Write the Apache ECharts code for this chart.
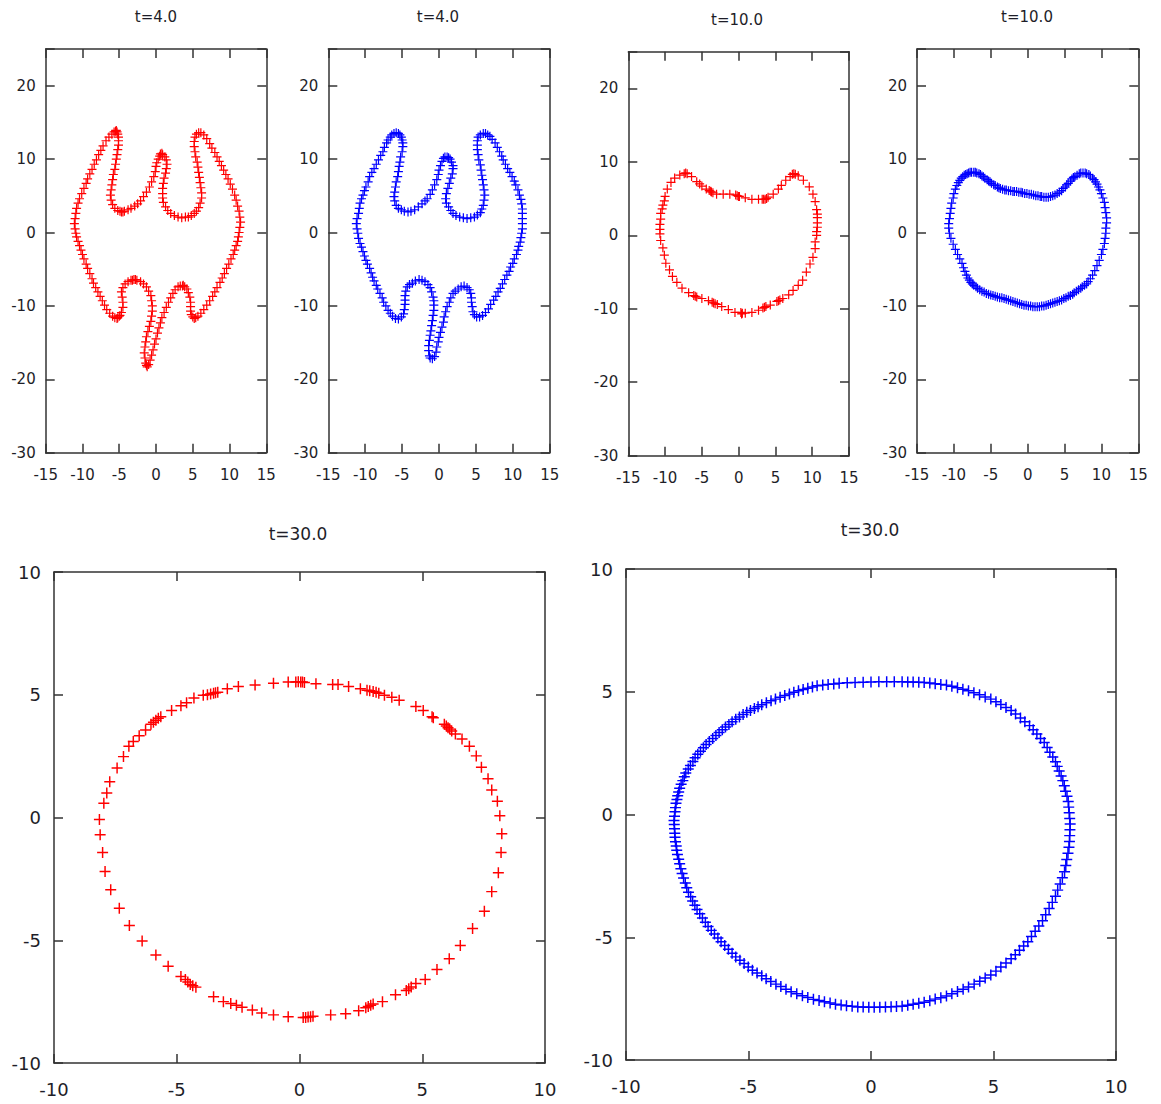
<!DOCTYPE html>
<html>
<head>
<meta charset="utf-8">
<script src="https://cdn.jsdelivr.net/npm/echarts@6/dist/echarts.min.js"></script>
<style>
  html, body { margin: 0; padding: 0; background: #ffffff; }
  #chart { width: 1161px; height: 1104px; }
</style>
</head>
<body>
<div id="chart"></div>
<script>
// Interface positions (x, y) of the two runs at each output time.
const redT4 = [
  [-10.9,-0.1],[-11.0,0.5],[-11.1,1.2],[-11.0,1.9],[-10.9,2.6],[-10.8,3.3],[-10.6,4.0],[-10.4,4.6],[-10.1,5.3],[-9.8,6.0],
  [-9.5,6.7],[-9.3,7.3],[-9.0,8.0],[-8.7,8.6],[-8.4,9.3],[-8.1,9.9],[-7.8,10.6],[-7.5,11.2],[-7.2,11.8],[-6.8,12.5],
  [-6.4,13.0],[-6.0,13.4],[-5.7,13.7],[-5.5,13.8],[-5.4,13.9],[-5.3,13.7],[-5.2,13.4],[-5.1,13.0],[-5.1,12.5],[-5.1,11.9],
  [-5.2,11.3],[-5.3,10.6],[-5.4,10.0],[-5.5,9.3],[-5.6,8.6],[-5.8,7.9],[-5.9,7.2],[-6.0,6.5],[-6.1,5.8],[-6.2,5.1],
  [-6.1,4.4],[-5.9,3.8],[-5.6,3.3],[-5.2,3.0],[-4.9,2.9],[-4.7,2.8],[-4.5,2.8],[-4.3,2.9],[-3.8,3.1],[-3.4,3.3],
  [-2.9,3.6],[-2.5,3.9],[-2.1,4.3],[-1.7,4.9],[-1.3,5.5],[-0.9,6.2],[-0.6,6.9],[-0.3,7.6],[-0.1,8.3],[0.0,9.0],
  [0.1,9.5],[0.3,10.0],[0.5,10.4],[0.6,10.7],[0.8,10.8],[0.9,10.6],[1.2,10.3],[1.4,9.9],[1.5,9.3],[1.4,8.7],
  [1.3,8.1],[1.1,7.4],[1.0,6.7],[0.9,6.0],[0.9,5.3],[0.9,4.7],[1.0,4.1],[1.3,3.5],[1.6,3.0],[2.0,2.6],
  [2.5,2.3],[3.0,2.1],[3.5,2.0],[4.0,2.1],[4.4,2.1],[4.8,2.3],[5.2,2.6],[5.5,2.9],[5.8,3.4],[6.0,4.0],
  [6.2,4.7],[6.2,5.4],[6.1,6.1],[6.0,6.8],[5.9,7.5],[5.8,8.2],[5.7,8.9],[5.6,9.6],[5.4,10.3],[5.3,11.0],
  [5.2,11.7],[5.2,12.4],[5.3,13.0],[5.5,13.4],[5.8,13.6],[6.1,13.6],[6.5,13.3],[6.9,12.8],[7.3,12.1],[7.6,11.5],
  [8.0,10.9],[8.3,10.3],[8.6,9.7],[8.9,9.1],[9.2,8.5],[9.5,7.9],[9.8,7.3],[10.1,6.6],[10.4,5.9],[10.7,5.1],
  [10.9,4.4],[11.1,3.6],[11.3,2.9],[11.4,2.1],[11.5,1.4],[11.4,0.7],[11.3,0.0],[11.2,-0.6],[11.1,-1.2],[10.9,-1.8],
  [10.7,-2.4],[10.5,-3.0],[10.2,-3.6],[9.9,-4.3],[9.6,-4.9],[9.3,-5.6],[9.0,-6.2],[8.7,-6.8],[8.3,-7.5],[8.0,-8.1],
  [7.7,-8.7],[7.3,-9.3],[6.9,-9.9],[6.5,-10.5],[6.1,-11.0],[5.7,-11.4],[5.4,-11.6],[5.2,-11.7],[5.0,-11.5],[4.8,-11.2],
  [4.7,-10.7],[4.7,-10.1],[4.7,-9.5],[4.6,-8.8],[4.4,-8.2],[4.2,-7.7],[3.9,-7.4],[3.7,-7.2],[3.6,-7.3],[3.3,-7.3],
  [3.0,-7.4],[2.6,-7.8],[2.3,-8.3],[2.0,-8.9],[1.7,-9.5],[1.4,-10.2],[1.1,-10.9],[0.8,-11.6],[0.6,-12.3],[0.4,-13.0],
  [0.2,-13.7],[0.0,-14.5],[-0.2,-15.2],[-0.4,-16.0],[-0.6,-16.7],[-0.8,-17.4],[-1.0,-18.0],[-1.2,-18.3],[-1.3,-18.1],[-1.4,-17.8],
  [-1.5,-17.1],[-1.6,-16.4],[-1.5,-15.6],[-1.4,-14.9],[-1.3,-14.2],[-1.1,-13.5],[-0.9,-12.8],[-0.7,-12.1],[-0.6,-11.4],[-0.5,-10.7],
  [-0.5,-10.0],[-0.6,-9.3],[-0.7,-8.6],[-1.0,-8.0],[-1.3,-7.4],[-1.7,-7.0],[-2.1,-6.7],[-2.6,-6.5],[-2.8,-6.4],[-3.0,-6.4],
  [-3.2,-6.5],[-3.4,-6.5],[-3.8,-6.7],[-4.2,-7.0],[-4.5,-7.5],[-4.7,-8.1],[-4.6,-8.8],[-4.5,-9.5],[-4.5,-10.2],[-4.7,-10.9],
  [-4.9,-11.3],[-5.0,-11.4],[-5.2,-11.6],[-5.3,-11.7],[-5.6,-11.6],[-5.9,-11.4],[-6.3,-11.0],[-6.7,-10.5],[-7.0,-9.9],[-7.3,-9.3],
  [-7.6,-8.7],[-7.9,-8.1],[-8.2,-7.5],[-8.5,-6.9],[-8.7,-6.3],[-9.0,-5.6],[-9.3,-4.9],[-9.5,-4.3],[-9.8,-3.6],[-10.0,-3.0],
  [-10.2,-2.4],[-10.4,-1.8],[-10.6,-1.2],[-10.8,-0.6]
];

const blueT4 = [
  [-11.0,-0.1],[-11.1,0.5],[-11.2,1.2],[-11.1,1.9],[-10.9,2.6],[-10.8,3.3],[-10.7,4.0],[-10.5,4.6],[-10.3,5.1],[-10.1,5.7],
  [-9.9,6.2],[-9.6,6.9],[-9.4,7.6],[-9.1,8.2],[-8.8,8.7],[-8.5,9.3],[-8.2,9.9],[-7.9,10.5],[-7.6,11.0],[-7.4,11.6],
  [-7.1,12.2],[-6.9,12.6],[-6.6,13.0],[-6.4,13.3],[-6.1,13.5],[-5.8,13.6],[-5.5,13.5],[-5.3,13.3],[-5.1,13.0],[-5.0,12.6],
  [-4.9,12.2],[-4.9,11.7],[-5.0,11.0],[-5.2,10.3],[-5.3,9.6],[-5.4,9.0],[-5.5,8.3],[-5.6,7.6],[-5.8,6.9],[-5.9,6.2],
  [-6.0,5.5],[-6.1,4.9],[-6.0,4.3],[-5.8,3.7],[-5.5,3.3],[-5.1,3.1],[-4.7,2.9],[-4.2,2.8],[-3.8,2.9],[-3.3,3.1],
  [-2.8,3.5],[-2.3,3.9],[-1.9,4.3],[-1.6,4.6],[-1.2,5.2],[-0.9,5.8],[-0.6,6.5],[-0.3,7.2],[-0.1,7.9],[0.0,8.5],
  [0.2,9.1],[0.4,9.7],[0.6,10.1],[0.8,10.3],[1.1,10.3],[1.3,10.2],[1.5,10.0],[1.7,9.6],[1.9,9.1],[1.9,8.7],
  [1.8,8.0],[1.6,7.4],[1.4,6.7],[1.2,6.0],[1.0,5.3],[0.9,4.6],[1.0,4.0],[1.3,3.5],[1.6,3.0],[1.9,2.6],
  [2.3,2.3],[2.8,2.1],[3.3,2.0],[3.8,1.9],[4.3,2.0],[4.8,2.1],[5.2,2.4],[5.6,2.7],[5.8,3.2],[6.0,3.7],
  [6.1,4.4],[6.2,5.1],[6.1,5.8],[6.0,6.5],[5.9,7.2],[5.8,7.8],[5.7,8.5],[5.6,9.2],[5.4,9.9],[5.3,10.6],
  [5.2,11.3],[5.2,11.9],[5.2,12.5],[5.3,13.0],[5.6,13.3],[6.0,13.5],[6.3,13.5],[6.6,13.3],[6.9,13.1],[7.2,12.7],
  [7.6,12.2],[7.9,11.6],[8.2,11.0],[8.5,10.4],[8.7,9.9],[9.0,9.3],[9.3,8.7],[9.6,8.2],[9.9,7.6],[10.2,7.0],
  [10.4,6.5],[10.7,5.8],[10.9,5.1],[11.1,4.5],[11.2,3.9],[11.3,3.2],[11.3,2.6],[11.3,1.9],[11.3,1.2],[11.3,0.5],
  [11.2,-0.1],[11.1,-0.7],[11.0,-1.3],[10.8,-1.9],[10.7,-2.4],[10.5,-3.0],[10.2,-3.6],[10.0,-4.2],[9.7,-4.7],[9.5,-5.3],
  [9.2,-5.8],[8.9,-6.4],[8.6,-7.0],[8.3,-7.6],[8.0,-8.1],[7.7,-8.7],[7.4,-9.2],[7.0,-9.8],[6.7,-10.4],[6.3,-10.9],
  [5.9,-11.3],[5.5,-11.5],[5.1,-11.5],[4.8,-11.2],[4.6,-10.8],[4.5,-10.1],[4.4,-9.5],[4.4,-8.9],[4.3,-8.3],[4.1,-7.8],
  [3.8,-7.5],[3.4,-7.3],[3.0,-7.4],[2.6,-7.7],[2.2,-8.0],[1.9,-8.3],[1.6,-8.9],[1.4,-9.5],[1.1,-10.1],[0.9,-10.8],
  [0.7,-11.5],[0.6,-12.2],[0.4,-12.9],[0.2,-13.6],[0.0,-14.3],[-0.1,-14.9],[-0.3,-15.6],[-0.4,-16.3],[-0.6,-16.9],[-0.9,-17.2],
  [-1.2,-17.1],[-1.3,-16.8],[-1.4,-16.1],[-1.4,-15.4],[-1.3,-14.7],[-1.2,-14.0],[-1.1,-13.4],[-1.0,-12.7],[-0.9,-12.0],[-0.8,-11.3],
  [-0.7,-10.6],[-0.7,-9.9],[-0.7,-9.3],[-0.8,-8.8],[-1.0,-8.1],[-1.2,-7.5],[-1.5,-7.1],[-1.9,-6.7],[-2.3,-6.5],[-2.7,-6.4],
  [-3.2,-6.6],[-3.6,-6.9],[-4.0,-7.1],[-4.3,-7.4],[-4.5,-8.0],[-4.6,-8.6],[-4.6,-9.2],[-4.6,-9.8],[-4.7,-10.5],[-4.8,-11.1],
  [-5.1,-11.5],[-5.5,-11.8],[-5.9,-11.7],[-6.3,-11.4],[-6.6,-11.0],[-6.9,-10.6],[-7.2,-10.0],[-7.5,-9.5],[-7.7,-8.9],[-8.0,-8.3],
  [-8.3,-7.7],[-8.5,-7.2],[-8.8,-6.6],[-9.0,-6.1],[-9.2,-5.5],[-9.4,-4.9],[-9.7,-4.3],[-9.9,-3.8],[-10.1,-3.2],[-10.3,-2.6],
  [-10.5,-2.0],[-10.7,-1.5],[-10.9,-0.8]
];

const redT10 = [
  [-10.7,0.2],[-10.7,0.8],[-10.7,1.5],[-10.6,2.2],[-10.6,3.0],[-10.4,3.6],[-10.3,4.1],[-10.1,4.7],[-10.0,5.3],[-9.7,6.3],
  [-9.2,7.2],[-8.7,7.8],[-8.0,8.2],[-7.4,8.4],[-7.2,8.5],[-7.0,8.4],[-6.4,8.0],[-5.7,7.3],[-5.3,7.0],[-5.0,6.7],
  [-4.4,6.3],[-4.0,6.1],[-3.8,6.0],[-3.7,5.9],[-3.5,5.8],[-3.0,5.6],[-2.1,5.6],[-1.2,5.6],[-0.4,5.5],[-0.2,5.4],
  [0.0,5.3],[0.1,5.3],[0.9,5.1],[1.8,4.9],[2.7,4.9],[3.2,4.9],[3.4,4.9],[3.6,4.9],[3.8,5.0],[4.0,5.2],
  [4.7,5.6],[5.4,6.3],[5.8,6.8],[6.4,7.5],[7.0,8.0],[7.3,8.3],[7.5,8.4],[7.7,8.3],[8.1,8.1],[8.8,7.5],
  [9.6,6.6],[10.1,5.6],[10.4,4.6],[10.6,3.5],[10.7,2.9],[10.7,2.4],[10.7,1.7],[10.7,1.1],[10.6,0.5],[10.6,0.0],
  [10.4,-0.9],[10.4,-1.8],[10.1,-3.0],[9.7,-3.9],[9.2,-5.0],[8.7,-6.1],[8.1,-6.8],[7.4,-7.5],[6.8,-8.1],[6.0,-8.6],
  [5.6,-8.8],[5.4,-8.9],[5.2,-9.0],[4.3,-9.5],[3.7,-9.7],[3.5,-9.8],[3.3,-9.9],[2.7,-10.2],[1.8,-10.5],[0.9,-10.6],
  [0.5,-10.6],[0.4,-10.7],[0.3,-10.5],[-0.5,-10.5],[-1.4,-10.1],[-2.3,-9.7],[-2.9,-9.4],[-3.2,-9.3],[-3.4,-9.2],[-3.6,-9.1],
  [-4.1,-8.9],[-5.0,-8.6],[-5.7,-8.4],[-5.9,-8.3],[-6.1,-8.2],[-6.8,-7.8],[-7.7,-7.2],[-8.4,-6.4],[-9.0,-5.6],[-9.4,-4.7],
  [-9.9,-3.8],[-10.1,-2.7],[-10.3,-1.7],[-10.6,-0.7]
];

const blueT10 = [
  [-10.6,-0.1],[-10.7,0.6],[-10.7,1.2],[-10.6,1.9],[-10.5,2.6],[-10.4,3.3],[-10.3,4.0],[-10.1,4.7],[-10.0,5.3],[-9.8,5.9],
  [-9.6,6.4],[-9.4,6.8],[-9.2,7.1],[-9.0,7.4],[-8.8,7.6],[-8.6,7.8],[-8.4,7.9],[-8.2,8.0],[-8.0,8.1],[-7.8,8.2],
  [-7.6,8.2],[-7.3,8.2],[-7.1,8.2],[-6.9,8.1],[-6.6,8.0],[-6.4,7.9],[-6.2,7.7],[-6.0,7.6],[-5.8,7.4],[-5.5,7.2],
  [-5.3,7.0],[-5.1,6.9],[-4.9,6.7],[-4.6,6.5],[-4.4,6.4],[-4.1,6.2],[-3.9,6.1],[-3.7,6.0],[-3.4,5.9],[-3.1,5.8],
  [-2.9,5.8],[-2.6,5.7],[-2.3,5.7],[-2.0,5.6],[-1.8,5.6],[-1.5,5.6],[-1.2,5.5],[-0.9,5.5],[-0.7,5.4],[-0.4,5.3],
  [-0.1,5.3],[0.2,5.2],[0.5,5.2],[0.8,5.1],[1.1,5.0],[1.4,5.0],[1.7,4.9],[1.9,4.9],[2.2,4.8],[2.5,4.8],
  [2.8,4.8],[3.1,4.9],[3.4,5.0],[3.7,5.1],[4.0,5.3],[4.3,5.5],[4.6,5.7],[4.8,6.0],[5.1,6.2],[5.3,6.5],
  [5.5,6.7],[5.8,7.0],[6.0,7.3],[6.2,7.5],[6.4,7.6],[6.7,7.8],[7.0,8.0],[7.2,8.1],[7.5,8.1],[7.8,8.1],
  [8.0,8.0],[8.3,7.9],[8.5,7.7],[8.8,7.4],[9.0,7.2],[9.2,6.9],[9.4,6.6],[9.6,6.2],[9.8,5.8],[10.0,5.3],
  [10.2,4.7],[10.4,4.1],[10.5,3.4],[10.6,2.7],[10.7,2.0],[10.7,1.3],[10.6,0.6],[10.6,-0.1],[10.5,-0.8],[10.4,-1.5],
  [10.2,-2.3],[10.0,-3.0],[9.7,-3.8],[9.4,-4.5],[9.1,-5.2],[8.8,-5.8],[8.5,-6.3],[8.2,-6.7],[8.0,-7.0],[7.7,-7.2],
  [7.4,-7.4],[7.2,-7.6],[6.9,-7.8],[6.6,-8.0],[6.3,-8.2],[6.1,-8.4],[5.8,-8.6],[5.5,-8.7],[5.2,-8.9],[4.9,-9.0],
  [4.6,-9.2],[4.3,-9.3],[4.0,-9.4],[3.7,-9.5],[3.4,-9.6],[3.1,-9.7],[2.8,-9.8],[2.5,-9.9],[2.2,-10.0],[1.9,-10.0],
  [1.6,-10.1],[1.3,-10.1],[1.0,-10.1],[0.7,-10.1],[0.4,-10.0],[0.1,-10.0],[-0.2,-9.9],[-0.5,-9.9],[-0.8,-9.8],[-1.1,-9.7],
  [-1.4,-9.6],[-1.7,-9.5],[-2.0,-9.4],[-2.3,-9.3],[-2.6,-9.2],[-2.9,-9.1],[-3.2,-9.0],[-3.5,-8.9],[-3.8,-8.9],[-4.1,-8.8],
  [-4.4,-8.7],[-4.7,-8.6],[-5.0,-8.5],[-5.3,-8.4],[-5.6,-8.3],[-5.9,-8.1],[-6.2,-8.0],[-6.5,-7.8],[-6.8,-7.6],[-7.0,-7.4],
  [-7.3,-7.2],[-7.5,-7.0],[-7.7,-6.8],[-7.9,-6.5],[-8.1,-6.2],[-8.3,-5.8],[-8.5,-5.3],[-8.7,-4.8],[-8.9,-4.2],[-9.2,-3.6],
  [-9.5,-3.0],[-9.8,-2.3],[-10.1,-1.6],[-10.4,-0.8]
];

const redT30 = [
  [-0.15,5.52],[-0.05,5.53],[0.05,5.52],[0.12,5.52],[0.2,5.5],[0.67,5.45],[1.35,5.42],[1.57,5.42],[2.0,5.34],[2.48,5.24],
  [2.75,5.18],[2.86,5.16],[3.0,5.13],[3.12,5.1],[3.23,5.06],[3.46,4.98],[3.76,4.9],[4.06,4.78],[4.74,4.52],[5.04,4.36],
  [5.4,4.1],[5.45,4.06],[5.9,3.8],[5.98,3.73],[6.05,3.66],[6.12,3.6],[6.2,3.52],[6.35,3.4],[6.62,3.2],[6.92,2.9],
  [7.2,2.51],[7.41,2.05],[7.68,1.58],[7.83,1.12],[8.06,0.66],[8.16,0.07],[8.24,-0.66],[8.21,-1.43],[8.1,-2.25],[7.83,-3.02],
  [7.53,-3.82],[7.05,-4.52],[6.55,-5.21],[6.1,-5.75],[5.6,-6.19],[5.12,-6.6],[4.74,-6.76],[4.55,-6.9],[4.45,-6.98],[4.35,-7.05],
  [3.91,-7.22],[3.38,-7.5],[3.0,-7.6],[2.9,-7.65],[2.8,-7.7],[2.7,-7.75],[2.41,-7.87],[1.88,-7.99],[1.27,-8.04],[0.55,-8.1],
  [0.45,-8.12],[0.35,-8.13],[0.25,-8.15],[0.15,-8.15],[-0.46,-8.12],[-1.06,-8.04],[-1.54,-7.96],[-1.92,-7.84],[-2.34,-7.73],[-2.57,-7.65],
  [-2.8,-7.58],[-3.1,-7.5],[-3.5,-7.3],[-4.22,-6.91],[-4.35,-6.85],[-4.45,-6.8],[-4.55,-6.7],[-4.65,-6.6],[-4.83,-6.48],[-5.35,-6.06],
  [-5.85,-5.6],[-6.41,-5.03],[-6.93,-4.4],[-7.34,-3.7],[-7.69,-2.94],[-7.92,-2.2],[-8.02,-1.43],[-8.12,-0.7],[-8.15,-0.08],[-7.97,0.58],
  [-7.85,1.0],[-7.73,1.46],[-7.43,2.02],[-7.17,2.48],[-6.95,2.9],[-6.77,3.1],[-6.53,3.33],[-6.27,3.56],[-6.05,3.8],[-5.95,3.88],
  [-5.85,3.96],[-5.75,4.04],[-5.65,4.1],[-5.21,4.36],[-4.83,4.55],[-4.6,4.67],[-4.3,4.87],[-3.92,4.98],[-3.75,5.0],[-3.62,5.03],
  [-3.5,5.06],[-3.42,5.08],[-3.33,5.1],[-2.94,5.24],[-2.49,5.34],[-1.81,5.4],[-1.06,5.47],[-0.46,5.52]
];

const blueT30 = [
  [0.0,5.40],[0.32,5.41],[0.64,5.41],[0.95,5.41],[1.27,5.41],[1.5,5.40],[1.72,5.40],[1.95,5.39],
  [2.17,5.38],[2.4,5.36],[2.62,5.33],[2.85,5.30],[3.08,5.27],[3.3,5.22],[3.53,5.16],[3.75,5.10],
  [3.98,5.04],[4.2,4.96],[4.43,4.88],[4.66,4.79],[4.89,4.70],[5.1,4.59],[5.3,4.48],[5.51,4.36],
  [5.72,4.24],[5.9,4.09],[6.1,3.93],[6.28,3.78],[6.47,3.62],[6.62,3.45],[6.77,3.28],[6.92,3.1],
  [7.07,2.93],[7.19,2.73],[7.3,2.54],[7.42,2.34],[7.53,2.15],[7.6,1.96],[7.68,1.77],[7.76,1.57],
  [7.83,1.38],[7.89,1.17],[7.94,0.95],[8.0,0.74],[8.05,0.53],[8.07,0.3],[8.09,0.07],[8.11,-0.16],
  [8.13,-0.39],[8.12,-0.62],[8.11,-0.86],[8.1,-1.1],[8.08,-1.33],[8.04,-1.58],[7.99,-1.83],[7.95,-2.08],
  [7.9,-2.33],[7.81,-2.58],[7.72,-2.83],[7.62,-3.08],[7.53,-3.33],[7.4,-3.58],[7.27,-3.83],[7.13,-4.08],
  [7.0,-4.33],[6.85,-4.54],[6.7,-4.76],[6.55,-4.97],[6.4,-5.18],[6.23,-5.36],[6.06,-5.53],[5.89,-5.71],
  [5.72,-5.88],[5.51,-6.05],[5.3,-6.21],[5.1,-6.38],[4.89,-6.54],[4.66,-6.66],[4.44,-6.79],[4.21,-6.91],
  [3.98,-7.03],[3.76,-7.12],[3.53,-7.21],[3.3,-7.3],[3.08,-7.39],[2.85,-7.46],[2.62,-7.52],[2.4,-7.59],
  [2.17,-7.65],[1.95,-7.69],[1.72,-7.73],[1.5,-7.77],[1.27,-7.81],[1.04,-7.82],[0.82,-7.83],[0.59,-7.84],
  [0.36,-7.85],[0.13,-7.85],[-0.09,-7.85],[-0.32,-7.84],[-0.54,-7.84],[-0.77,-7.81],[-1.0,-7.79],[-1.22,-7.76],
  [-1.45,-7.73],[-1.67,-7.68],[-1.9,-7.63],[-2.12,-7.58],[-2.35,-7.53],[-2.58,-7.45],[-2.8,-7.38],[-3.03,-7.3],
  [-3.26,-7.22],[-3.47,-7.12],[-3.68,-7.01],[-3.88,-6.91],[-4.09,-6.8],[-4.28,-6.69],[-4.46,-6.57],[-4.65,-6.46],
  [-4.84,-6.34],[-5.01,-6.21],[-5.18,-6.07],[-5.35,-5.94],[-5.52,-5.8],[-5.67,-5.65],[-5.82,-5.49],[-5.97,-5.34],
  [-6.12,-5.18],[-6.25,-5.03],[-6.39,-4.87],[-6.52,-4.72],[-6.65,-4.56],[-6.76,-4.39],[-6.88,-4.22],[-6.99,-4.04],
  [-7.1,-3.87],[-7.19,-3.7],[-7.28,-3.52],[-7.36,-3.35],[-7.45,-3.17],[-7.52,-2.98],[-7.58,-2.79],[-7.65,-2.59],
  [-7.71,-2.4],[-7.76,-2.21],[-7.81,-2.01],[-7.85,-1.82],[-7.9,-1.63],[-7.93,-1.46],[-7.95,-1.28],[-7.98,-1.11],
  [-8.0,-0.93],[-8.01,-0.76],[-8.02,-0.58],[-8.03,-0.41],[-8.04,-0.24],[-8.02,-0.07],[-8.0,0.11],[-7.98,0.28],
  [-7.96,0.46],[-7.92,0.61],[-7.89,0.76],[-7.85,0.92],[-7.81,1.07],[-7.75,1.23],[-7.68,1.38],[-7.62,1.54],
  [-7.56,1.69],[-7.46,1.85],[-7.37,2.0],[-7.27,2.16],[-7.18,2.31],[-7.07,2.45],[-6.96,2.58],[-6.84,2.72],
  [-6.73,2.85],[-6.6,2.97],[-6.46,3.1],[-6.33,3.22],[-6.2,3.34],[-6.07,3.45],[-5.94,3.56],[-5.8,3.67],
  [-5.67,3.78],[-5.52,3.88],[-5.37,3.97],[-5.22,4.07],[-5.07,4.16],[-4.92,4.24],[-4.76,4.32],[-4.61,4.39],
  [-4.46,4.47],[-4.27,4.55],[-4.08,4.63],[-3.9,4.7],[-3.71,4.78],[-3.52,4.85],[-3.33,4.91],[-3.15,4.98],
  [-2.96,5.04],[-2.77,5.09],[-2.58,5.14],[-2.39,5.19],[-2.2,5.24],[-1.97,5.27],[-1.75,5.3],[-1.52,5.32],
  [-1.3,5.35],[-0.97,5.37],[-0.65,5.38],[-0.32,5.39]
];

// Panel titles and axis ranges [min, max, step]
const panelTitles = ['t=4.0', 't=4.0', 't=10.0', 't=10.0', 't=30.0', 't=30.0'];
const narrowXRange = [-15, 15, 5];
const narrowYRange = [-30, 25, 10];
const squareRange = [-10, 10, 5];

const RED = '#ff0000';
const BLUE = '#0000ff';
const FRAME = '#333333';
const TEXT = '#1e1e28';
const FONT = 'DejaVu Sans';

// Thin "+" glyph used for every point
const PLUS = 'path://M3.9,0H5.1V3.9H9V5.1H5.1V9H3.9V5.1H0V3.9H3.9Z';

const panels = [
  { data: redT4,   color: RED,  box: [45.7, 49, 220.6, 403.7],  xr: narrowXRange, yr: narrowYRange, lab: 15, tit: 15, title: [156, 17],  xm: 15, ym: 10, mark: 9 },
  { data: blueT4,  color: BLUE, box: [328.3, 49, 221.4, 403.7], xr: narrowXRange, yr: narrowYRange, lab: 15, tit: 15, title: [438, 17],  xm: 15, ym: 10, mark: 9 },
  { data: redT10,  color: RED,  box: [628.3, 51.7, 220.7, 404], xr: narrowXRange, yr: narrowYRange, lab: 15, tit: 15, title: [737, 20],  xm: 15, ym: 10, mark: 9 },
  { data: blueT10, color: BLUE, box: [917, 49, 221.3, 403.7],   xr: narrowXRange, yr: narrowYRange, lab: 15, tit: 15, title: [1027, 17], xm: 15, ym: 10, mark: 9 },
  { data: redT30,  color: RED,  box: [54, 572, 491, 491],       xr: squareRange,  yr: squareRange,  lab: 18, tit: 17, title: [298, 534], xm: 17, ym: 13, mark: 11 },
  { data: blueT30, color: BLUE, box: [626, 569, 490, 491],      xr: squareRange,  yr: squareRange,  lab: 18, tit: 17, title: [870, 530], xm: 17, ym: 13, mark: 11 }
];

const grid = [], xAxis = [], yAxis = [], series = [], graphic = [];

function axisBase(i, range, position, showLabel, fontSize, margin) {
  const hi = range[1];
  return {
    gridIndex: i,
    type: 'value',
    position: position,
    min: range[0],
    max: range[1],
    interval: range[2],
    axisLine: { show: true, onZero: false, lineStyle: { color: FRAME, width: 1.5 } },
    axisTick: { show: true, inside: true, length: 9, lineStyle: { color: FRAME, width: 1.5 } },
    splitLine: { show: false },
    axisLabel: {
      show: showLabel,
      margin: margin,
      color: TEXT,
      fontFamily: FONT,
      fontSize: fontSize,
      formatter: function (v) {
        // the top of the tall frames is not a labelled tick
        if (v === hi && (hi % range[2]) !== 0) return '';
        return String(v);
      }
    }
  };
}

panels.forEach(function (p, i) {
  grid.push({ left: p.box[0], top: p.box[1], width: p.box[2], height: p.box[3], outerBoundsMode: 'none', containLabel: false });
  xAxis.push(axisBase(i, p.xr, 'bottom', true, p.lab, p.xm));
  xAxis.push(axisBase(i, p.xr, 'top', false, p.lab, p.xm));
  yAxis.push(axisBase(i, p.yr, 'left', true, p.lab, p.ym));
  yAxis.push(axisBase(i, p.yr, 'right', false, p.lab, p.ym));
  series.push({
    type: 'scatter',
    xAxisIndex: 2 * i,
    yAxisIndex: 2 * i,
    data: p.data,
    symbol: PLUS,
    symbolSize: p.mark,
    itemStyle: { color: p.color, opacity: 1 },
    silent: true
  });
  graphic.push({
    type: 'text',
    x: p.title[0],
    y: p.title[1],
    style: {
      text: panelTitles[i],
      fill: TEXT,
      fontSize: p.tit,
      fontFamily: FONT,
      align: 'center',
      verticalAlign: 'middle'
    }
  });
});

const chart = echarts.init(document.getElementById('chart'), null, { renderer: 'svg' });
chart.setOption({
  backgroundColor: '#ffffff',
  animation: false,
  grid: grid,
  xAxis: xAxis,
  yAxis: yAxis,
  series: series,
  graphic: graphic
});
</script>
</body>
</html>
